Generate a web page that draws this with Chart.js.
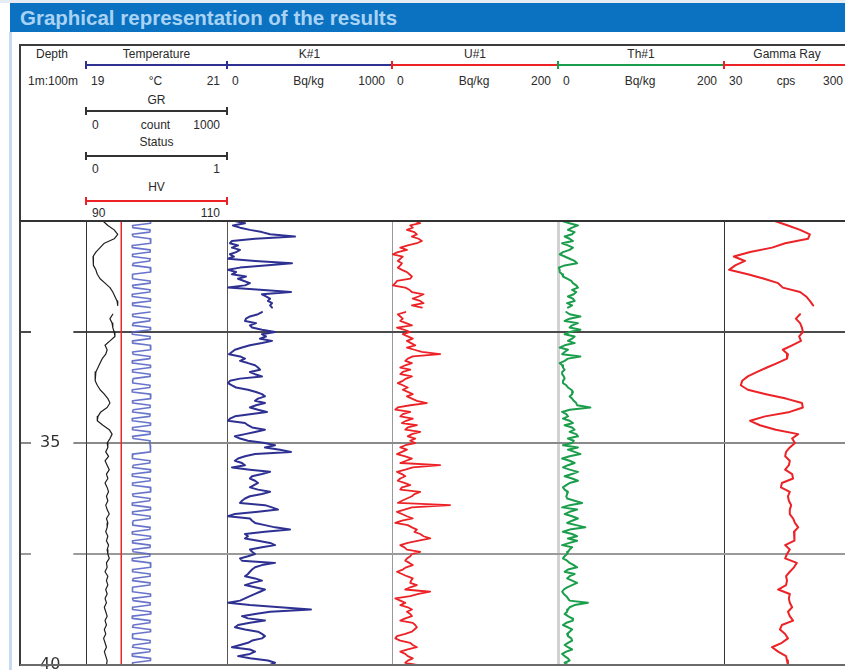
<!DOCTYPE html>
<html>
<head>
<meta charset="utf-8">
<title>Graphical representation of the results</title>
<script src="https://cdn.jsdelivr.net/npm/chart.js@4"></script>
<style>
  html, body { margin: 0; padding: 0; background: #fff; }
  body { width: 845px; height: 670px; overflow: hidden; font-family: "Liberation Sans", Arial, sans-serif; }
  #page { position: relative; width: 845px; height: 670px; overflow: hidden; }
  .box { position: absolute; }
  .txt { position: absolute; font-size: 12px; line-height: 1; color: #2a2a2a; white-space: nowrap; z-index: 4; }
  canvas { position: absolute; z-index: 2; }
</style>
</head>
<body>
<div id="page"></div>
<script>
// ---------------- depth axis ----------------
const DEPTH_TOP = 30;
const DEPTH_BOTTOM = 40;
const FINE_STEP = 0.05;    // sampling interval of the spectral logs (m)
const COARSE_STEP = 0.1;   // sampling interval of temperature and gamma ray (m)
const FLAT_STEP = 10;      // constant channels: one value at each end
const DEPTH_GRID = [32.5, 35, 37.5];
const DEPTH_LABELS = [35, 40];
const DEPTH_SCALE_TEXT = '1m:100m';

// ---------------- track headers ----------------
const CURVE_NAMES = ['Temperature', 'K#1', 'U#1', 'Th#1', 'Gamma Ray'];
const CURVE_UNITS = ['°C', 'Bq/kg', 'Bq/kg', 'Bq/kg', 'cps'];
const CURVE_MIN = [19, 0, 0, 0, 30];
const CURVE_MAX = [21, 1000, 200, 200, 300];
const AUX_NAMES = ['GR', 'Status', 'HV'];
const AUX_UNITS = ['count', '', ''];
const AUX_MIN = [0, 0, 90];
const AUX_MAX = [1000, 1, 110];

// ---------------- logged values ----------------
const TEMPERATURE = [
  19.24, 19.31, 19.40, 19.45, 19.40, 19.26, 19.20, 19.14, 19.10, 19.11,
  19.10, 19.14, 19.16, 19.20, 19.27, 19.34, 19.38, 19.41, 19.44, 19.45,
  null, 19.38, 19.34, 19.37, 19.38, 19.40, 19.41, 19.34, 19.27, 19.30,
  19.28, 19.23, 19.20, 19.17, 19.14, 19.13, 19.13, 19.16, 19.20, 19.26,
  19.31, 19.34, 19.30, 19.21, 19.17, 19.16, 19.24, 19.33, 19.37, 19.34,
  19.30, 19.31, 19.28, 19.32, 19.27, 19.30, 19.33, 19.29, 19.31, 19.27,
  19.30, 19.32, 19.29, 19.31, 19.28, 19.30, 19.33, 19.29, 19.31, 19.30,
  19.28, 19.31, 19.29, 19.32, 19.30, 19.31, 19.33, 19.29, 19.30, 19.27,
  19.31, 19.29, 19.31, 19.28, 19.30, 19.27, 19.29, 19.26, 19.28, 19.30,
  19.27, 19.29, 19.26, 19.28, 19.25, 19.27, 19.29, 19.26, 19.28, 19.30,
  19.29
];

const GR_COUNT = [
  455, 458, 330, 332, 455, 452, 328, 335, 455, 460,
  458, 330, 328, 455, 455, 332, 330, 455, 452, 335,
  330, 455, 458, 460, 330, 328, 332, 455, 455, 330,
  335, 455, 452, 330, 328, 455, 458, 332, 330, 455,
  null, 455, 330, 332, 455, 452, 335, 330, 455, 458,
  330, 328, 455, 455, 332, 330, 455, 460, 458, 330,
  335, 455, 452, 330, 328, 455, 458, 332, 330, 455,
  455, 335, 330, 332, 455, 452, 330, 328, 455, 458,
  460, 332, 330, 455, 455, 335, 330, 455, 452, 330,
  328, 455, 458, 332, 330, 455, 455, 330, 335, 455,
  452, 455, 458, 460, 455, 332, 328, 330, 455, 452,
  335, 330, 455, 458, 330, 328, 455, 455, 332, 330,
  455, 460, 458, 330, 335, 455, 452, 330, 328, 455,
  458, 332, 330, 455, 455, 335, 330, 332, 455, 452,
  330, 328, 455, 458, 332, 330, 455, 455, 330, 335,
  455, 452, 330, 328, 455, 458, 460, 332, 330, 455,
  455, 335, 330, 455, 452, 330, 328, 332, 455, 458,
  330, 335, 455, 455, 332, 330, 455, 460, 330, 328,
  455, 452, 335, 330, 455, 458, 332, 330, 330, 455,
  455, 335, 330, 455, 452, 330, 328, 455, 458, 332,
  330
];

const STATUS = [0, 0];
const HV = [95, 95];

const K1 = [
  48, 109, 36, 79, 139, 212, 261, 412, 170, 30,
  18, 67, 30, 79, 55, 18, 42, 6, 170, 394,
  230, 79, 6, 55, 30, 115, 67, 103, 139, 109,
  6, 200, 388, 212, 236, 261, 248, 273, 261, 273,
  null, 212, 188, 139, 115, 109, 176, 139, 152, 212,
  291, 212, 236, 200, 273, 212, 139, 91, 48, 30,
  12, 79, 109, 79, 127, 170, 188, 200, 139, 170,
  212, 79, 18, 6, 30, 55, 127, 176, 212, 230,
  188, 170, 230, 176, 139, 188, 242, 139, 48, 18,
  6, 109, 127, 152, 230, 170, 109, 48, 79, 127,
  230, 291, 230, 321, 388, 170, 109, 67, 48, 91,
  109, 30, 139, 261, 212, 152, 139, 170, 188, 164,
  139, 188, 261, 212, 139, 109, 91, 79, 230, 273,
  309, 188, 48, 6, 139, 152, 170, 230, 291, 382,
  230, 109, 127, 109, 188, 261, 291, 212, 139, 152,
  170, 127, 79, 91, 291, 212, 170, 152, 139, 127,
  109, 170, 212, 152, 109, 170, 230, 200, 170, 139,
  109, 79, 6, 139, 321, 509, 261, 170, 91, 127,
  230, 139, 67, 48, 109, 188, 212, 230, 212, 152,
  127, 79, 30, 139, 170, 139, 67, 139, 248, 291,
  261
];

const U1 = [
  28, 34, 22, 25, 18, 27, 30, 24, 32, 36,
  30, 19, 10, 18, 7, 1, 13, 10, 7, 12,
  10, 7, 12, 18, 21, 24, 22, 6, 4, 1,
  16, 21, 24, 38, 32, 25, 34, 38, 24, 36,
  null, 16, 7, 10, 13, 10, 17, 24, 6, 15,
  22, 13, 19, 25, 18, 23, 28, 18, 27, 36,
  58, 25, 19, 16, 24, 16, 10, 22, 13, 10,
  24, 17, 13, 7, 13, 19, 13, 19, 25, 18,
  24, 30, 42, 22, 7, 4, 22, 13, 10, 25,
  17, 12, 30, 19, 16, 34, 24, 19, 28, 22,
  28, 16, 10, 18, 12, 6, 16, 24, 17, 10,
  58, 25, 16, 6, 12, 16, 10, 7, 15, 22,
  12, 10, 34, 27, 24, 18, 12, 7, 70, 24,
  15, 6, 12, 18, 25, 12, 4, 19, 24, 30,
  27, 34, 38, 46, 32, 19, 10, 15, 18, 34,
  24, 22, 18, 16, 21, 25, 17, 13, 6, 12,
  18, 25, 23, 22, 30, 22, 16, 46, 32, 22,
  4, 10, 16, 10, 19, 24, 18, 22, 24, 16,
  10, 25, 28, 30, 27, 24, 16, 6, 4, 10,
  22, 25, 30, 19, 10, 16, 19, 25, 19, 16,
  30
];

const TH1 = [
  5, 14, 24, 17, 12, 20, 17, 8, 14, 18,
  5, 12, 18, 14, 6, 2, 8, 14, 20, 23,
  8, 1, 2, 2, 5, 6, 11, 16, 18, 22,
  24, 17, 22, 19, 12, 18, 20, 11, 17, 12,
  null, 10, 14, 27, 14, 8, 24, 17, 14, 27,
  14, 8, 20, 17, 12, 20, 8, 2, 12, 8,
  5, 27, 12, 8, 2, 5, 6, 8, 5, 5,
  7, 8, 6, 6, 10, 12, 16, 18, 17, 14,
  17, 19, 22, 23, 39, 14, 5, 10, 12, 6,
  14, 18, 8, 17, 20, 14, 22, 24, 12, 19,
  17, 6, 24, 12, 20, 27, 14, 5, 14, 20,
  12, 6, 14, 24, 17, 8, 17, 24, 14, 10,
  6, 8, 12, 11, 10, 11, 20, 29, 14, 5,
  23, 14, 8, 17, 24, 17, 11, 22, 33, 14,
  6, 17, 23, 12, 23, 14, 5, 17, 14, 12,
  11, 8, 6, 11, 14, 19, 23, 12, 8, 20,
  14, 11, 17, 23, 17, 11, 7, 5, 7, 10,
  12, 14, 36, 20, 14, 12, 11, 8, 12, 17,
  18, 10, 6, 12, 17, 14, 11, 12, 16, 17,
  12, 8, 12, 17, 10, 5, 8, 12, 14, 8,
  12
];

const GAMMA_RAY = [
  139, 167, 193, 214, 210, 161, 133, 86, 51, 75,
  54, 41, 81, 116, 146, 156, 193, 206, 214, 221,
  null, 193, 184, 193, 197, 199, 191, 195, 176, 156,
  167, 165, 144, 122, 101, 81, 69, 66, 81, 120,
  163, 197, 199, 171, 118, 86, 107, 141, 189, 176,
  182, 171, 163, 161, 171, 169, 161, 176, 178, 154,
  152, 171, 167, 169, 174, 171, 171, 178, 182, 189,
  180, 180, 182, 161, 171, 165, 161, 186, 180, 171,
  163, 165, 163, 146, 171, 169, 171, 176, 167, 171,
  178, 154, 150, 161, 167, 154, 133, 146, 163, 165,
  167
];

// ---------------- layout ----------------
const TRACK_X = [20, 86, 227, 392, 558, 724, 850];
const PLOT_TOP = 221;
const PLOT_BOTTOM = 665;
const PAGE_BOTTOM = 670;

const page = document.getElementById('page');

function box(left, top, width, height, color, z) {
  const d = document.createElement('div');
  d.className = 'box';
  Object.assign(d.style, {
    left: left + 'px', top: top + 'px', width: width + 'px', height: height + 'px',
    background: color, zIndex: z == null ? 3 : z
  });
  page.appendChild(d);
  return d;
}

function text(str, x, y, align, extra) {
  const d = document.createElement('div');
  d.className = 'txt';
  d.textContent = str;
  const tx = align === 'center' ? '-50%' : align === 'right' ? '-100%' : '0';
  d.style.left = x + 'px';
  d.style.top = y + 'px';
  d.style.transform = 'translate(' + tx + ', -50%)';
  if (extra) Object.assign(d.style, extra);
  page.appendChild(d);
  return d;
}

// scale bar with an end tick at each side
function scaleBar(x0, x1, y, color) {
  box(x0, y - 1, x1 - x0, 2, color, 3);
  box(x0 - 1, y - 4, 2, 8, color, 3);
  box(x1 - 1, y - 4, 2, 8, color, 3);
}

// ---------- page chrome ----------
box(0, 0, 845, 3, '#e6ecf3', 1);
box(10, 3, 835, 29, '#0b72c1', 3);
text('Graphical representation of the results', 20, 18, 'left',
  { fontSize: '20.5px', fontWeight: 'bold', color: '#a9d3f4' });
box(9, 32, 3, PAGE_BOTTOM - 32, '#c6daf0', 1);

// outer frame of the log
box(20, 44, 825, 2, '#3c3c3c', 3);
box(19, 44, 2, PLOT_BOTTOM - 44 + 1, '#3c3c3c', 3);
box(20, PLOT_TOP - 1, 825, 2, '#333', 3);
box(20, PLOT_BOTTOM - 1, 825, 2, '#6a6a6a', 3);

// track separators in the plot area
const SEP_STYLE = [
  null,
  { w: 1, c: '#333' },
  { w: 1, c: '#555' },
  { w: 1, c: '#999' },
  { w: 3, c: '#d2d2d2' },
  { w: 1, c: '#333' }
];
for (let i = 1; i < SEP_STYLE.length; i++) {
  const s = SEP_STYLE[i];
  box(TRACK_X[i] - Math.floor(s.w / 2), PLOT_TOP, s.w, PLOT_BOTTOM - PLOT_TOP, s.c, 1);
}

// ---------- header ----------
const CURVE_COLORS = ['#2e3192', '#2e3192', '#ec2227', '#1b9e4b', '#ec2227'];
const AUX_COLORS = ['#333', '#333', '#ec2227'];

text('Depth', 52, 54, 'center');
text(DEPTH_SCALE_TEXT, 53, 81, 'center');

for (let i = 0; i < CURVE_NAMES.length; i++) {
  const x0 = TRACK_X[i + 1], x1 = TRACK_X[i + 2];
  const mid = (x0 + x1) / 2;
  text(CURVE_NAMES[i], mid, 54, 'center');
  scaleBar(x0, x1, 65, CURVE_COLORS[i]);
  text(String(CURVE_MIN[i]), x0 + 5, 81, 'left');
  text(CURVE_UNITS[i], mid - 1, 81, 'center');
  text(String(CURVE_MAX[i]), x1 - 7, 81, 'right');
}

const AUX_ROWS = [{ title: 100, bar: 111, vals: 125 }, { title: 142, bar: 156, vals: 169 }, { title: 187, bar: 201, vals: 213 }];
for (let i = 0; i < AUX_NAMES.length; i++) {
  const x0 = TRACK_X[1], x1 = TRACK_X[2];
  const mid = (x0 + x1) / 2;
  const r = AUX_ROWS[i];
  text(AUX_NAMES[i], mid, r.title, 'center');
  scaleBar(x0, x1, r.bar, AUX_COLORS[i]);
  text(String(AUX_MIN[i]), x0 + 6, r.vals, 'left');
  if (AUX_UNITS[i]) text(AUX_UNITS[i], mid - 1, r.vals, 'center');
  text(String(AUX_MAX[i]), x1 - 7, r.vals, 'right');
}

// ---------- charts ----------
function toPoints(values, step) {
  return values.map((v, i) => ({ x: v, y: +(DEPTH_TOP + i * step).toFixed(3) }));
}

function gridColor(v) {
  if (v === 32.5) return '#4a4a4a';
  if (v === 35) return '#8a8a8a';
  if (v === 37.5) return '#9a9a9a';
  return 'rgba(0,0,0,0)';
}

function depthAxis(withLabels) {
  return {
    type: 'linear', min: DEPTH_TOP, max: DEPTH_BOTTOM, reverse: true, position: 'left',
    afterBuildTicks: axis => {
      const vals = withLabels ? DEPTH_GRID.concat([DEPTH_BOTTOM]) : DEPTH_GRID;
      axis.ticks = vals.map(v => ({ value: v }));
    },
    // the labels sit inside the track, so the axis takes no room of its own
    afterFit: axis => {
      axis.width = 0;
      axis.paddingTop = 0;
      axis.paddingBottom = 0;
      axis.paddingLeft = 0;
      axis.paddingRight = 0;
    },
    border: { display: false },
    grid: { drawTicks: false, tickLength: 0, lineWidth: 2, color: c => gridColor(c.tick && c.tick.value) },
    ticks: withLabels ? {
      display: true, mirror: true, padding: 20, color: '#333',
      font: { family: 'DejaVu Sans', size: 16 },
      showLabelBackdrop: true, backdropColor: '#ffffff',
      backdropPadding: { left: 9, right: 13, top: 0, bottom: 0 },
      callback: v => DEPTH_LABELS.includes(v) ? String(v) : '    '
    } : { display: false }
  };
}

function valueAxis(min, max) {
  return { type: 'linear', axis: 'x', min: min, max: max, display: false };
}

function makeCanvas(x0, x1) {
  const c = document.createElement('canvas');
  c.width = x1 - x0;
  c.height = PAGE_BOTTOM - PLOT_TOP;
  c.style.left = x0 + 'px';
  c.style.top = PLOT_TOP + 'px';
  c.style.width = (x1 - x0) + 'px';
  c.style.height = (PAGE_BOTTOM - PLOT_TOP) + 'px';
  page.appendChild(c);
  return c;
}

function track(index, datasets, xScales, withLabels) {
  const canvas = makeCanvas(TRACK_X[index], TRACK_X[index + 1]);
  const scales = Object.assign({ y: depthAxis(withLabels) }, xScales);
  return new Chart(canvas, {
    type: 'line',
    data: { datasets: datasets },
    options: {
      animation: false,
      responsive: false,
      devicePixelRatio: 1,
      events: [],
      indexAxis: 'y',
      layout: { padding: { top: 0, right: 0, bottom: PAGE_BOTTOM - PLOT_BOTTOM, left: 0 } },
      plugins: { legend: { display: false }, tooltip: { enabled: false } },
      elements: {
        point: { radius: 0 },
        line: { tension: 0, borderJoinStyle: 'round', borderCapStyle: 'round', fill: false }
      },
      scales: scales
    }
  });
}

function curve(values, step, color, width, axisId) {
  return {
    data: toPoints(values, step), borderColor: color, borderWidth: width,
    xAxisID: axisId, yAxisID: 'y', spanGaps: false, pointRadius: 0
  };
}

// depth track (labels only)
track(0, [], { x: valueAxis(0, 1) }, true);

// temperature track with GR, Status and HV
track(1, [
  curve(STATUS, FLAT_STEP, '#333', 1, 'xStatus'),
  curve(HV, FLAT_STEP, '#e8262b', 1.5, 'xHV'),
  curve(GR_COUNT, FINE_STEP, 'rgba(88,102,196,0.9)', 1.6, 'xGR'),
  curve(TEMPERATURE, COARSE_STEP, '#1e1e1e', 1.2, 'xTemp')
], {
  xTemp: valueAxis(CURVE_MIN[0], CURVE_MAX[0]),
  xGR: valueAxis(AUX_MIN[0], AUX_MAX[0]),
  xStatus: valueAxis(AUX_MIN[1], AUX_MAX[1]),
  xHV: valueAxis(AUX_MIN[2], AUX_MAX[2])
}, false);

track(2, [curve(K1, FINE_STEP, '#2e3192', 2, 'xK')], { xK: valueAxis(CURVE_MIN[1], CURVE_MAX[1]) }, false);
track(3, [curve(U1, FINE_STEP, '#ec2227', 1.8, 'xU')], { xU: valueAxis(CURVE_MIN[2], CURVE_MAX[2]) }, false);
track(4, [curve(TH1, FINE_STEP, '#1b9e4b', 2, 'xTh')], { xTh: valueAxis(CURVE_MIN[3], CURVE_MAX[3]) }, false);
track(5, [curve(GAMMA_RAY, COARSE_STEP, '#ec2227', 2, 'xGamma')], { xGamma: valueAxis(CURVE_MIN[4], CURVE_MAX[4]) }, false);
</script>
</body>
</html>
